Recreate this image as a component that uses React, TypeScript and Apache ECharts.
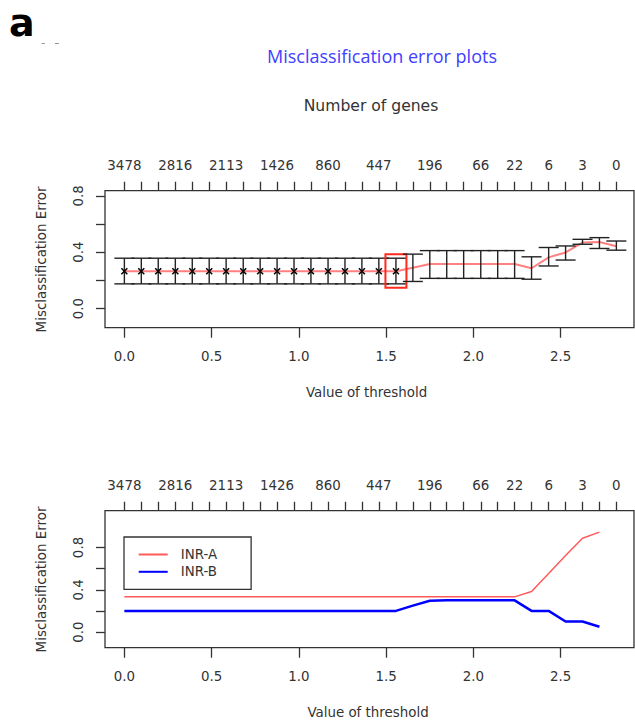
import React, { useEffect, useRef } from "react";
import * as echarts from "echarts";

// ---- data ----
const thresholds = [
  0.0, 0.097, 0.194, 0.292, 0.389, 0.486, 0.583, 0.681, 0.778, 0.875,
  0.972, 1.069, 1.167, 1.264, 1.361, 1.458, 1.556, 1.653, 1.75, 1.847,
  1.944, 2.042, 2.139, 2.236, 2.333, 2.431, 2.528, 2.625, 2.722, 2.819,
];
const geneLabelIdx = [0, 3, 6, 9, 12, 15, 18, 21, 23, 25, 27, 29];
const geneLabels = ["3478", "2816", "2113", "1426", "860", "447", "196", "66", "22", "6", "3", "0"];

const cvError = [
  0.265, 0.265, 0.265, 0.265, 0.265, 0.265, 0.265, 0.265, 0.265, 0.265,
  0.265, 0.265, 0.265, 0.265, 0.265, 0.265, 0.265, 0.29, 0.316, 0.316,
  0.316, 0.316, 0.316, 0.316, 0.286, 0.363, 0.398, 0.468, 0.472, 0.442,
];
const cvLower = [
  0.175, 0.175, 0.175, 0.175, 0.175, 0.175, 0.175, 0.175, 0.175, 0.175,
  0.175, 0.175, 0.175, 0.175, 0.175, 0.175, 0.175, 0.192, 0.214, 0.214,
  0.214, 0.214, 0.214, 0.214, 0.208, 0.302, 0.344, 0.456, 0.426, 0.414,
];
const cvUpper = [
  0.357, 0.357, 0.357, 0.357, 0.357, 0.357, 0.357, 0.357, 0.357, 0.357,
  0.357, 0.357, 0.357, 0.357, 0.357, 0.357, 0.357, 0.386, 0.411, 0.411,
  0.411, 0.411, 0.411, 0.411, 0.367, 0.433, 0.444, 0.491, 0.503, 0.479,
];
const lastMarkedIdx = 16;
const selectedIdx = 16;

const inrA = [
  0.333, 0.333, 0.333, 0.333, 0.333, 0.333, 0.333, 0.333, 0.333, 0.333,
  0.333, 0.333, 0.333, 0.333, 0.333, 0.333, 0.333, 0.333, 0.333, 0.333,
  0.333, 0.333, 0.333, 0.333, 0.384, 0.554, 0.724, 0.888, 0.945,
];
const inrB = [
  0.2, 0.2, 0.2, 0.2, 0.2, 0.2, 0.2, 0.2, 0.2, 0.2,
  0.2, 0.2, 0.2, 0.2, 0.2, 0.2, 0.2, 0.25, 0.296, 0.3,
  0.3, 0.3, 0.3, 0.3, 0.2, 0.2, 0.1, 0.1, 0.05,
];

const yTicks = [0, 0.2, 0.4, 0.6, 0.8];
const yLabels = [0, 0.4, 0.8];
const xTicks = [0, 0.5, 1.0, 1.5, 2.0, 2.5];

const FONT = "DejaVu Sans";
const TXT = "#333";
const AX = "#333";

function bottomXAxis(gridIndex: number) {
  return {
    type: "value",
    gridIndex,
    position: "bottom",
    min: -0.111,
    max: 2.92,
    axisLine: { show: false, onZero: false },
    splitLine: { show: false },
    axisTick: {
      show: true,
      inside: false,
      length: 10,
      customValues: xTicks,
      lineStyle: { color: AX, width: 1.3 },
    },
    axisLabel: {
      customValues: xTicks,
      margin: 22,
      color: TXT,
      fontFamily: FONT,
      fontSize: 13.4,
      formatter: (v: number) => v.toFixed(1),
    },
  };
}

function topXAxis(gridIndex: number) {
  return {
    type: "value",
    gridIndex,
    position: "top",
    min: -0.111,
    max: 2.92,
    axisLine: { show: false, onZero: false },
    splitLine: { show: false },
    axisTick: {
      show: true,
      inside: false,
      length: 9,
      customValues: thresholds,
      lineStyle: { color: AX, width: 1.3 },
    },
    axisLabel: {
      customValues: geneLabelIdx.map((i) => thresholds[i]),
      margin: 19,
      color: TXT,
      fontFamily: FONT,
      fontSize: 13.4,
      formatter: (v: number) => {
        const k = geneLabelIdx.findIndex((i) => Math.abs(thresholds[i] - v) < 1e-6);
        return k >= 0 ? geneLabels[k] : "";
      },
    },
  };
}

function yAxis(gridIndex: number, min: number, max: number) {
  return {
    type: "value",
    gridIndex,
    position: "left",
    min,
    max,
    axisLine: { show: false, onZero: false },
    splitLine: { show: false },
    axisTick: {
      show: true,
      inside: false,
      length: 9,
      customValues: yTicks,
      lineStyle: { color: AX, width: 1.3 },
    },
    axisLabel: {
      customValues: yLabels,
      rotate: 90,
      margin: 20,
      color: TXT,
      fontFamily: FONT,
      fontSize: 13.4,
      formatter: (v: number) => v.toFixed(1),
    },
  };
}

export default function App() {
  const ref = useRef<HTMLDivElement>(null);

  useEffect(() => {
    if (!ref.current) return;
    const chart = echarts.init(ref.current, undefined, { renderer: "svg" });

    const option: any = {
      animation: false,
      backgroundColor: "#fff",
      grid: [
        { left: 105, right: 1, top: 190.7, bottom: 400.3, show: true, borderColor: "#333", borderWidth: 1.3, backgroundColor: "transparent" },
        { left: 105, right: 1, top: 510.7, bottom: 80.3, show: true, borderColor: "#333", borderWidth: 1.3, backgroundColor: "transparent" },
      ],
      xAxis: [bottomXAxis(0), topXAxis(0), bottomXAxis(1), topXAxis(1)],
      yAxis: [yAxis(0, -0.136, 0.836), yAxis(1, -0.148, 1.148)],
      legend: {
        data: ["INR-A", "INR-B"],
        orient: "vertical",
        left: 124,
        top: 537,
        selectedMode: false,
        itemWidth: 29,
        itemHeight: 14,
        itemGap: 4.3,
        padding: [11, 34, 11, 13.7],
        borderColor: "#333",
        borderWidth: 1.3,
        backgroundColor: "#fff",
        itemStyle: { opacity: 0 },
        textStyle: { color: TXT, fontFamily: FONT, fontSize: 13.4, padding: [0, 0, 0, 8] },
      },
      graphic: [
        { type: "text", x: 9, y: 23, style: { text: "a", fontFamily: "DejaVu Sans", fontWeight: "bold", fontSize: 38, fill: "#000", align: "left", verticalAlign: "middle" } },
        { type: "line", shape: { x1: 41.5, y1: 43.5, x2: 45, y2: 43.5 }, style: { stroke: "#999", lineWidth: 1 } },
        { type: "line", shape: { x1: 55, y1: 43.5, x2: 59, y2: 43.5 }, style: { stroke: "#999", lineWidth: 1 } },
        { type: "text", x: 382, y: 55.7, style: { text: "Misclassification error plots", fontFamily: "Open Sans", fontSize: 18, fill: "#4040ff", align: "center", verticalAlign: "middle" } },
        { type: "text", x: 371, y: 106, style: { text: "Number of genes", fontFamily: FONT, fontSize: 15.6, fill: TXT, align: "center", verticalAlign: "middle" } },
        { type: "text", x: 366.5, y: 392.7, style: { text: "Value of threshold", fontFamily: FONT, fontSize: 13.4, fill: TXT, align: "center", verticalAlign: "middle" } },
        { type: "text", x: 368, y: 712.7, style: { text: "Value of threshold", fontFamily: FONT, fontSize: 13.4, fill: TXT, align: "center", verticalAlign: "middle" } },
        { type: "text", x: 41.7, y: 259.5, rotation: Math.PI / 2, style: { text: "Misclassification Error", fontFamily: FONT, fontSize: 13.4, fill: TXT, align: "center", verticalAlign: "middle" } },
        { type: "text", x: 41.7, y: 579.5, rotation: Math.PI / 2, style: { text: "Misclassification Error", fontFamily: FONT, fontSize: 13.4, fill: TXT, align: "center", verticalAlign: "middle" } },
      ],
      series: [
        {
          type: "line",
          xAxisIndex: 0,
          yAxisIndex: 0,
          data: thresholds.map((t, i) => [t, cvError[i]]),
          showSymbol: false,
          symbol: "none",
          lineStyle: { color: "#ff8080", width: 2 },
          z: 2,
          silent: true,
        },
        {
          type: "custom",
          xAxisIndex: 0,
          yAxisIndex: 0,
          data: thresholds.map((t, i) => [t, cvError[i], cvLower[i], cvUpper[i], i]),
          encode: { x: 0, y: [1, 2, 3] },
          z: 3,
          silent: true,
          renderItem: (params: any, api: any) => {
            const x = api.value(0);
            const m = api.value(1);
            const lo = api.value(2);
            const hi = api.value(3);
            const idx = api.value(4);
            const pm = api.coord([x, m]);
            const pl = api.coord([x, lo]);
            const ph = api.coord([x, hi]);
            const cw = 10;
            const st = { stroke: "#222", lineWidth: 1.4 };
            const children: any[] = [
              { type: "line", shape: { x1: pl[0], y1: pl[1], x2: ph[0], y2: ph[1] }, style: st },
              { type: "line", shape: { x1: pl[0] - cw, y1: pl[1], x2: pl[0] + cw, y2: pl[1] }, style: st },
              { type: "line", shape: { x1: ph[0] - cw, y1: ph[1], x2: ph[0] + cw, y2: ph[1] }, style: st },
            ];
            if (idx <= lastMarkedIdx) {
              const s = 3;
              children.push(
                { type: "line", shape: { x1: pm[0] - s, y1: pm[1] - s, x2: pm[0] + s, y2: pm[1] + s }, style: { stroke: "#000", lineWidth: 1.5 } },
                { type: "line", shape: { x1: pm[0] - s, y1: pm[1] + s, x2: pm[0] + s, y2: pm[1] - s }, style: { stroke: "#000", lineWidth: 1.5 } }
              );
            }
            if (idx === selectedIdx) {
              children.push({
                type: "rect",
                shape: { x: pm[0] - 10.5, y: ph[1] - 4, width: 21, height: pl[1] - ph[1] + 8 },
                style: { fill: "none", stroke: "#ff2a1a", lineWidth: 2 },
              });
            }
            return { type: "group", children };
          },
        },
        {
          name: "INR-A",
          type: "line",
          xAxisIndex: 2,
          yAxisIndex: 1,
          data: inrA.map((v, i) => [thresholds[i], v]),
          showSymbol: false,
          symbol: "none",
          lineStyle: { color: "#ff5a5a", width: 1.5 },
          itemStyle: { color: "#ff5a5a" },
          silent: true,
        },
        {
          name: "INR-B",
          type: "line",
          xAxisIndex: 2,
          yAxisIndex: 1,
          data: inrB.map((v, i) => [thresholds[i], v]),
          showSymbol: false,
          symbol: "none",
          lineStyle: { color: "#0000ff", width: 2.5 },
          itemStyle: { color: "#0000ff" },
          silent: true,
        },
      ],
    };

    chart.setOption(option);
    return () => chart.dispose();
  }, []);

  return (
    <div
      ref={ref}
      style={{ position: "fixed", left: 0, top: 0, width: 635, height: 728, background: "#fff" }}
    />
  );
}
